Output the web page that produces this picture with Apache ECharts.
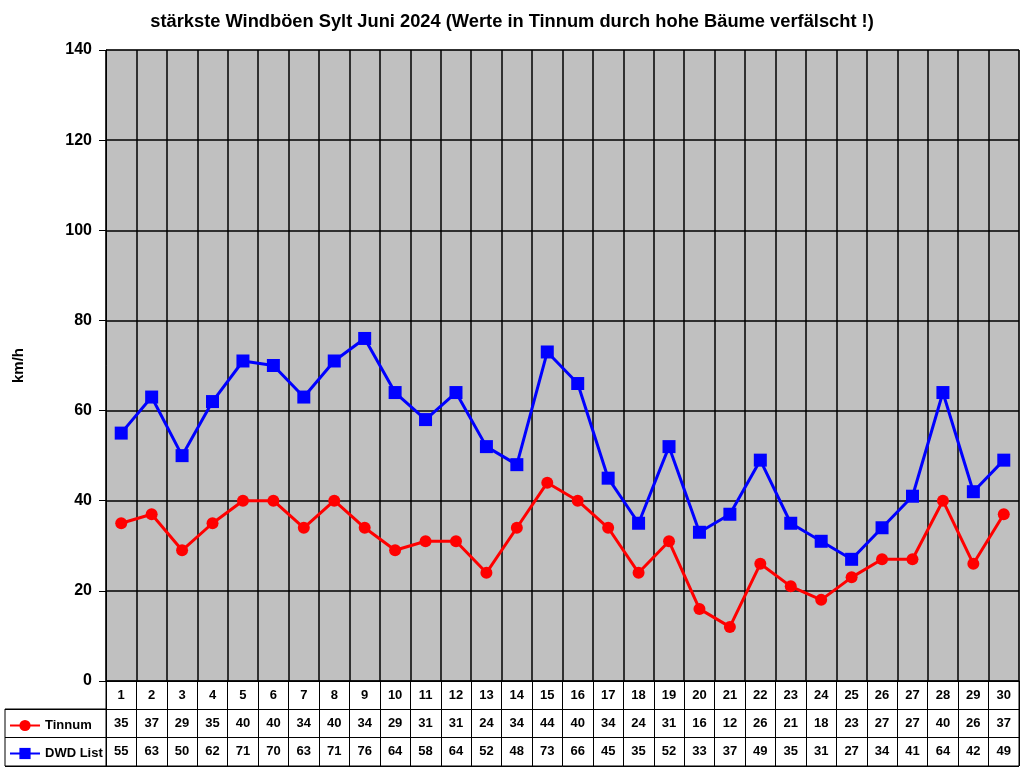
<!DOCTYPE html>
<html>
<head>
<meta charset="utf-8">
<script src="https://cdn.jsdelivr.net/npm/echarts@6/dist/echarts.min.js"></script>
<style>html,body{margin:0;padding:0;background:#fff}#c{width:1024px;height:768px}</style>
</head>
<body>
<div id="c"></div>
<script>
const days = ['1','2','3','4','5','6','7','8','9','10','11','12','13','14','15','16','17','18','19','20','21','22','23','24','25','26','27','28','29','30'];
const tinnum = [35,37,29,35,40,40,34,40,34,29,31,31,24,34,44,40,34,24,31,16,12,26,21,18,23,27,27,40,26,37];
const dwdList = [55,63,50,62,71,70,63,71,76,64,58,64,52,48,73,66,45,35,52,33,37,49,35,31,27,34,41,64,42,49];
const yTicks = {min: 0, max: 140, interval: 20};
const titleText = 'stärkste Windböen Sylt Juni 2024 (Werte in Tinnum durch hohe Bäume verfälscht !)';

const FF = 'Arial, "Liberation Sans", sans-serif';
const tableData = [];
tinnum.forEach((v, i) => tableData.push([i, 1, v]));
dwdList.forEach((v, i) => tableData.push([i, 2, v]));

const chart = echarts.init(document.getElementById('c'), null, {renderer: 'canvas'});
chart.setOption({
  animation: false,
  backgroundColor: '#fff',
  title: {
    text: titleText, left: 'center', top: 8,
    textStyle: {fontFamily: FF, fontSize: 18.3, fontWeight: 'bold', color: '#000'}
  },
  legend: {
    data: ['Tinnum', 'DWD List'],
    orient: 'vertical', left: 9, top: 719, padding: 0,
    itemWidth: 30, itemHeight: 14, itemGap: 15,
    textStyle: {fontFamily: FF, fontSize: 13, fontWeight: 'bold', color: '#000'},
    selectedMode: false
  },
  grid: [
    {left: 106, right: 5, top: 50, bottom: 87, show: true, backgroundColor: '#C0C0C0', borderColor: '#808080', borderWidth: 1},
    {left: 106, right: 5, top: 681, height: 85, show: true, backgroundColor: '#fff', borderColor: '#000', borderWidth: 1},
    {left: 5, width: 101, top: 709, height: 57, show: true, backgroundColor: '#fff', borderColor: '#000', borderWidth: 1}
  ],
  xAxis: [
    {
      type: 'category', gridIndex: 0, data: days, boundaryGap: true,
      axisLine: {show: true, lineStyle: {color: '#000', width: 1}},
      axisTick: {show: false},
      axisLabel: {interval: 0, margin: 8, fontFamily: FF, fontSize: 13, fontWeight: 'bold', color: '#000'},
      splitLine: {show: true, interval: 0, lineStyle: {color: '#000', width: 1.5}}
    },
    {
      type: 'category', gridIndex: 1, data: days, boundaryGap: true,
      axisLine: {show: false}, axisTick: {show: false}, axisLabel: {show: false},
      splitLine: {show: true, interval: 0, lineStyle: {color: '#000', width: 1}}
    },
    {type: 'value', gridIndex: 2, show: false, min: 0, max: 1}
  ],
  yAxis: [
    {
      type: 'value', gridIndex: 0, min: yTicks.min, max: yTicks.max, interval: yTicks.interval,
      name: 'km/h', nameLocation: 'middle', nameGap: 80, nameRotate: 90,
      nameTextStyle: {fontFamily: FF, fontSize: 15, fontWeight: 'bold', color: '#000'},
      axisLine: {show: true, lineStyle: {color: '#000', width: 1}},
      axisTick: {show: true, length: 7, lineStyle: {color: '#000'}},
      axisLabel: {margin: 14, fontFamily: FF, fontSize: 16, fontWeight: 'bold', color: '#000'},
      splitLine: {show: true, lineStyle: {color: '#000', width: 1.5}}
    },
    {
      type: 'category', gridIndex: 1, data: ['day', 'Tinnum', 'DWD List'], inverse: true,
      axisLine: {show: false}, axisTick: {show: false}, axisLabel: {show: false},
      splitLine: {show: true, interval: 0, lineStyle: {color: '#000', width: 1}}
    },
    {
      type: 'category', gridIndex: 2, data: ['Tinnum', 'DWD List'], inverse: true,
      axisLine: {show: false}, axisTick: {show: false}, axisLabel: {show: false},
      splitLine: {show: true, interval: 0, lineStyle: {color: '#000', width: 1}}
    }
  ],
  series: [
    {
      name: 'Tinnum', type: 'line', xAxisIndex: 0, yAxisIndex: 0, data: tinnum,
      symbol: 'circle', symbolSize: 12,
      lineStyle: {color: '#FF0000', width: 3},
      itemStyle: {color: '#FF0000'}, z: 3
    },
    {
      name: 'DWD List', type: 'line', xAxisIndex: 0, yAxisIndex: 0, data: dwdList,
      symbol: 'rect', symbolSize: 13,
      lineStyle: {color: '#0000FF', width: 3},
      itemStyle: {color: '#0000FF'}, z: 4
    },
    {
      name: 'table', type: 'scatter', xAxisIndex: 1, yAxisIndex: 1, data: tableData,
      symbolSize: 0, itemStyle: {color: '#000', opacity: 1}, silent: true, z: 10,
      label: {show: true, position: 'inside', formatter: p => String(p.value[2]),
        fontFamily: FF, fontSize: 13, fontWeight: 'bold', color: '#000', opacity: 1},
      emphasis: {disabled: true}
    }
  ]
});
</script>
</body>
</html>
